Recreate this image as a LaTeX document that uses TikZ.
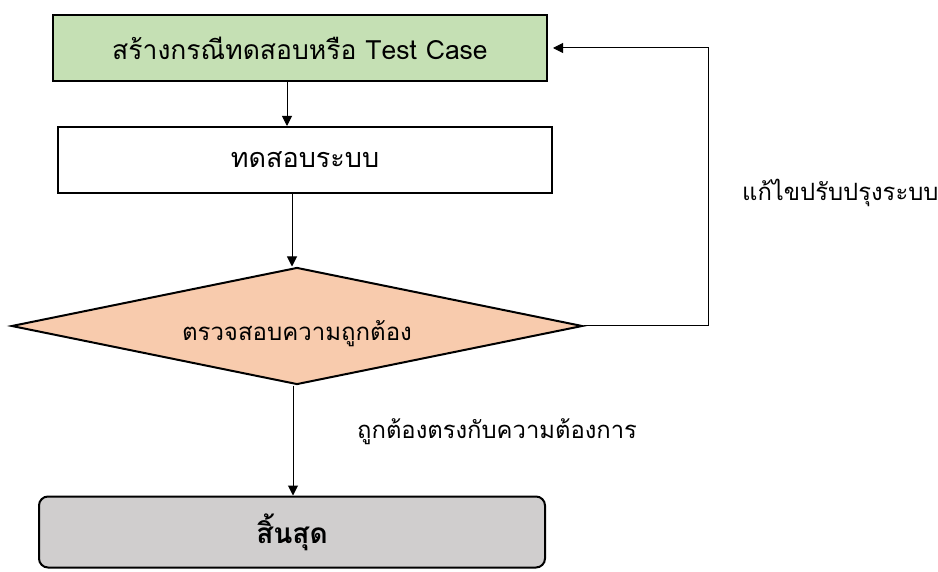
\documentclass[tikz,border=0pt]{standalone}
\usepackage{fontspec}
\newfontfamily\thaifont[Script=Thai]{Loma}
\usetikzlibrary{shapes.geometric,arrows.meta,positioning,calc}
\definecolor{blokzelena}{RGB}{197,224,180}
\definecolor{bloknarandzasta}{RGB}{248,203,173}
\definecolor{bloksiva}{RGB}{208,206,206}

\begin{document}
\begin{tikzpicture}[
    x=1pt,y=-1pt,
    blok/.style={rectangle,draw,line width=2pt,minimum width=494pt,
                 minimum height=66pt,inner sep=0pt,fill=white,
                 font=\thaifont\fontsize{27}{31}\selectfont},
    blokz/.style={blok,fill=blokzelena,font=\thaifont\fontsize{26.5}{30}\selectfont},
    romb/.style={diamond,draw,line width=2pt,aspect=4.88,minimum width=571pt,
                 minimum height=117pt,inner sep=0pt,fill=bloknarandzasta,
                 font=\thaifont\fontsize{24}{28}\selectfont},
    kraj/.style={blok,rounded corners=9pt,minimum width=506pt,minimum height=71pt,
                 fill=bloksiva,font=\thaifont\bfseries\fontsize{28}{32}\selectfont},
    oznaka/.style={inner sep=0pt,font=\thaifont\fontsize{23.8}{28}\selectfont},
    strelica/.style={-{Triangle[length=10pt,width=10pt]},line width=1pt}
]
\useasboundingbox (0,0) rectangle (938,572);

\node[blokz] (test) at (300,48) {สร้างกรณีทดสอบหรือ Test Case};
\node[blok] (sistem) at (305,160) {ทดสอบระบบ};
\node[romb] (provera) at (297,326) {\raisebox{-8pt}[\height][\depth]{ตรวจสอบความถูกต้อง}};
\node[kraj] (kraj) at (292,532) {สิ้นสุด};

\node[oznaka,anchor=west] (popravka) at (742,193) {แก้ไขปรับปรุงระบบ};
\node[oznaka,anchor=west] (ispravno) at (357,432) {ถูกต้องตรงกับความต้องการ};

\draw[strelica] ([xshift=-13pt]test.south) -- ([xshift=-13pt]test.south |- sistem.north);
\draw[strelica] ([xshift=-13pt]sistem.south) -- ([xshift=-13pt]sistem.south |- provera.north);
\draw[strelica] ([xshift=-4pt]provera.south) -- ([xshift=-4pt]provera.south |- kraj.north);
\draw[strelica,shorten >=5pt] (provera.east) -- ++(125,0) |- (test.east);
\end{tikzpicture}
\end{document}
